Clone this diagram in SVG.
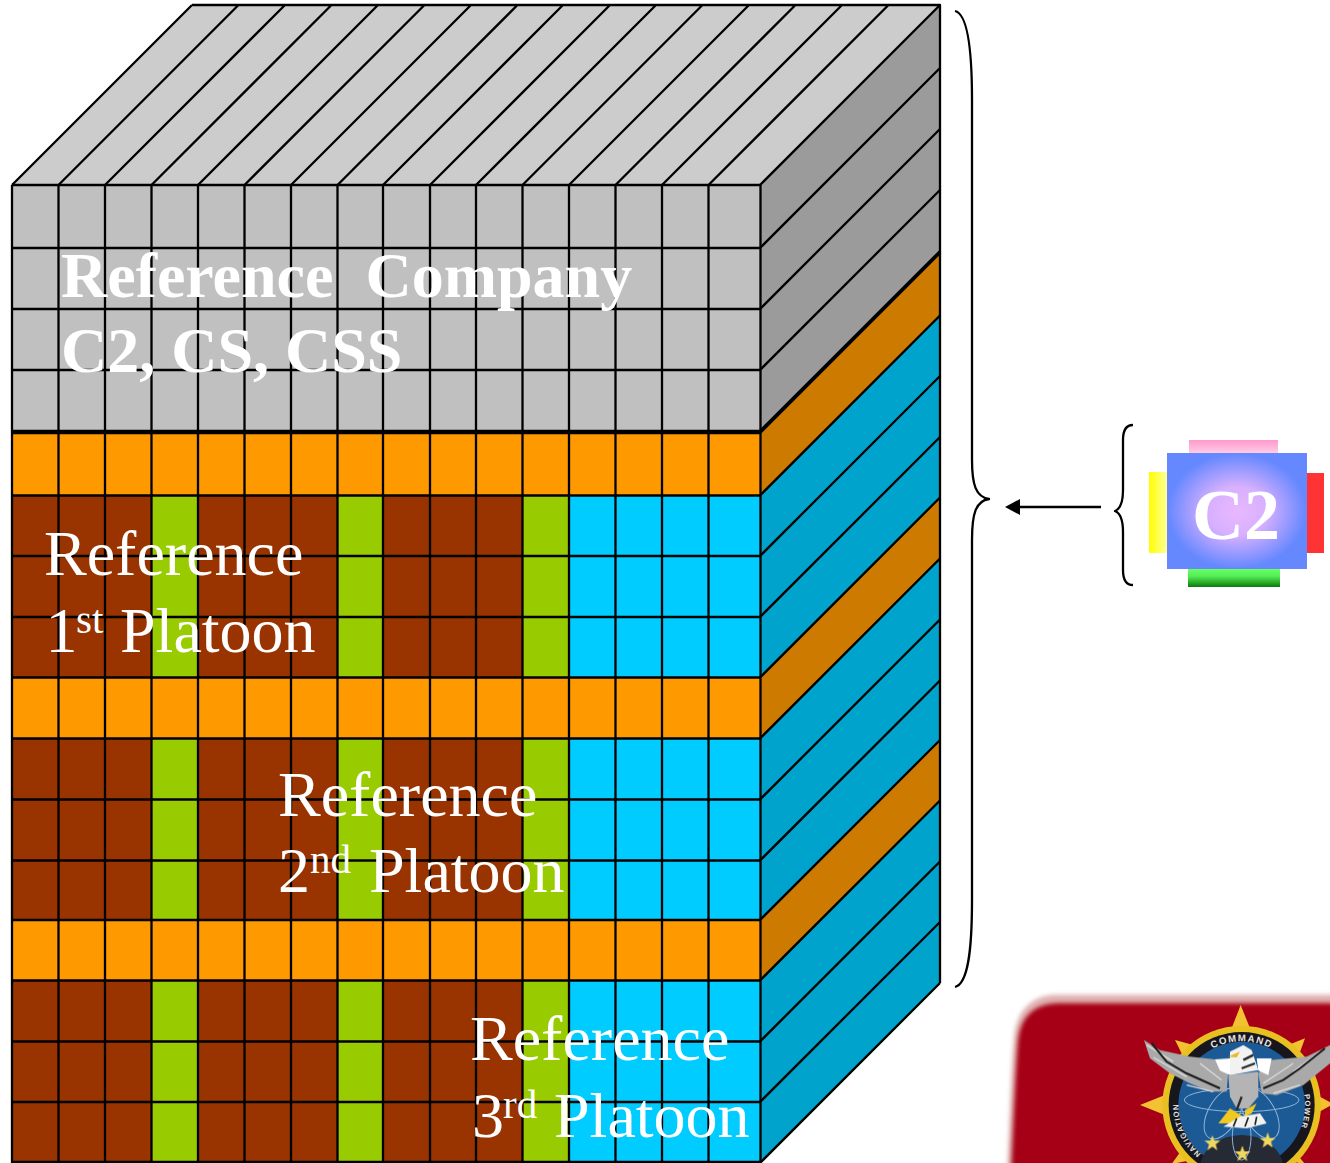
<svg xmlns="http://www.w3.org/2000/svg" xmlns:xlink="http://www.w3.org/1999/xlink" width="1330" height="1163" viewBox="0 0 1330 1163">
<style>
.ln{fill:none;stroke:#000;stroke-width:2.300;stroke-linejoin:round}
.t{font-family:"Liberation Serif","Times New Roman",serif;font-size:64px;fill:#fff}
.b{font-weight:bold}
.s{font-size:41px}
.lt{font-family:"Liberation Sans",Arial,sans-serif;font-weight:bold;font-size:29px;fill:#e4e4e4;letter-spacing:4px}
.lm{font-size:23px;letter-spacing:3px}
.gold{fill:#f2c230}
.fe{fill:none;stroke:#dcdcdc;stroke-width:4}
.dk{fill:none;stroke:#1c1c1c;stroke-width:6}
.orb{fill:none;stroke:#8fb4d8;stroke-width:3}
</style>
<defs>
<radialGradient id="c2g" cx="0.5" cy="0.5" r="0.52"><stop offset="0" stop-color="#e8b8ff"/><stop offset="0.4" stop-color="#d8b0ff"/><stop offset="0.95" stop-color="#6688ff"/></radialGradient>
<linearGradient id="pk" x1="0" y1="0" x2="0" y2="1"><stop offset="0" stop-color="#ff99cc"/><stop offset="1" stop-color="#ffcce6"/></linearGradient>
<linearGradient id="yl" x1="0" y1="0" x2="1" y2="0"><stop offset="0" stop-color="#ffff00"/><stop offset="1" stop-color="#ffff99"/></linearGradient>
<linearGradient id="gr" x1="0" y1="0" x2="0" y2="1"><stop offset="0" stop-color="#66ff66"/><stop offset="0.4" stop-color="#55ee55"/><stop offset="1" stop-color="#0a7a0a"/></linearGradient>
<filter id="bl" x="-5%" y="-5%" width="110%" height="110%"><feGaussianBlur stdDeviation="6"/></filter>
<filter id="bs" x="-5%" y="-5%" width="110%" height="110%"><feGaussianBlur stdDeviation="1.5"/></filter>
<path id="arcT" d="M560 280A190 190 0 0 1 890 280"/>
<path id="arcL" d="M600 518A190 190 0 0 1 535 375"/>
<path id="arcR" d="M915 375A190 190 0 0 1 880 485"/>
<path id="arcR2" d="M905 315A190 190 0 0 1 890 470"/>
<polygon id="st" points="0,-25 6,-8 24,-8 10,3 15,21 0,10 -15,21 -10,3 -24,-8 -6,-8"/>
</defs>
<rect width="1330" height="1163" fill="#fff"/>

<g id="cube-faces">
<polygon points="12,185 192,5 940,5 760,185" fill="#cccccc"/>
<polygon points="760,185 940,5 940,251 760,431" fill="#9b9b9b"/>
<polygon points="760,431 940,251 940,983 760,1163" fill="#00a3cc"/>
<polygon points="760,433 940,253 940,315.500 760,495.500" fill="#cc7a00"/>
<polygon points="760,677.500 940,497.500 940,558.500 760,738.500" fill="#cc7a00"/>
<polygon points="760,920 940,740 940,800.500 760,980.500" fill="#cc7a00"/>
<rect x="12" y="185" width="748" height="246" fill="#c0c0c0"/>
<rect x="12" y="433" width="748" height="730" fill="#993300"/>
<rect x="569" y="495" width="191" height="668" fill="#00ccff"/>
<rect x="152" y="495" width="46" height="668" fill="#99cc00"/>
<rect x="337.500" y="495" width="46" height="668" fill="#99cc00"/>
<rect x="523" y="495" width="46" height="668" fill="#99cc00"/>
<rect x="12" y="433" width="748" height="62.500" fill="#ff9900"/>
<rect x="12" y="677.500" width="748" height="61" fill="#ff9900"/>
<rect x="12" y="920" width="748" height="60.500" fill="#ff9900"/>
</g>

<g id="cube-grid" class="ln">
<path d="M12 185V1163M58.500 185V1163M105 185V1163M151.500 185V1163M198 185V1163M244.500 185V1163M291 185V1163M337.500 185V1163M383 185V1163M430 185V1163M476 185V1163M522.500 185V1163M569 185V1163M615.500 185V1163M662 185V1163M708.500 185V1163M760.500 185V1163"/>
<path d="M12 185H760M12 248H760M12 309H760M12 370H760M12 431H760M12 433H760M12 495.500H760M12 556H760M12 617H760M12 677.500H760M12 738.500H760M12 799.500H760M12 860.500H760M12 920H760M12 980.500H760M12 1041.500H760M12 1102H760M12 1162H760"/>
<path d="M12 185L192 5M58.500 185L238.500 5M105 185L285 5M151.500 185L331.500 5M198 185L378 5M244.500 185L424.500 5M291 185L471 5M337.500 185L517.500 5M383 185L563 5M430 185L610 5M476 185L656 5M522.500 185L702.500 5M569 185L749 5M615.500 185L795.500 5M662 185L842 5M708.500 185L888.500 5M760 185L940 5M192 5H940V983"/>
<path d="M760 248L940 68M760 309L940 129M760 370L940 190M760 431L940 251M760 433L940 253M760 495.500L940 315.500M760 556L940 376M760 617L940 437M760 677.500L940 497.500M760 738.500L940 558.500M760 799.500L940 619.500M760 860.500L940 680.500M760 920L940 740M760 980.500L940 800.500M760 1041.500L940 861.500M760 1102L940 922M760 1163L940 983"/>
</g>

<g id="labels">
<text class="t b" x="61" y="297" xml:space="preserve">Reference  Company</text>
<text class="t b" x="61" y="372">C2, CS, CSS</text>
<text class="t" x="44" y="575">Reference</text>
<text class="t" x="45.500" y="652">1</text>
<text class="t s" x="76" y="633">st</text>
<text class="t" x="120" y="652">Platoon</text>
<text class="t" x="278" y="816">Reference</text>
<text class="t" x="278" y="892">2</text>
<text class="t s" x="310" y="873">nd</text>
<text class="t" x="369" y="892">Platoon</text>
<text class="t" x="470" y="1060">Reference</text>
<text class="t" x="472" y="1137">3</text>
<text class="t s" x="503" y="1118">rd</text>
<text class="t" x="554" y="1137">Platoon</text>
</g>

<g id="connectors" class="ln">
<path d="M955 11C968 14 972 50 972 100V460C972 485 976 497 989 499C976 501 972 513 972 540V900C972 950 968 984 955 987"/>
<path d="M1133 425C1126 425 1123 430 1123 440V490C1123 503 1120 509 1115 511C1120 513 1123 519 1123 532V570C1123 580 1126 585 1133 585"/>
<path d="M1101 507H1018"/>
<polygon points="1005,507 1020,499 1020,515" fill="#000" stroke="none"/>
</g>

<g id="c2-node">
<rect x="1189" y="440" width="89" height="13" fill="url(#pk)"/>
<rect x="1149" y="472" width="18" height="81" fill="url(#yl)"/>
<rect x="1307" y="473" width="17" height="80" fill="#ff3333"/>
<rect x="1188" y="569" width="92" height="18" fill="url(#gr)"/>
<rect x="1167" y="453" width="140" height="116" fill="url(#c2g)"/>
<text class="t b" x="1192" y="539" style="font-size:72px">C2</text>
</g>

<g id="emblem" transform="translate(1000 980) scale(0.33333)">
<path d="M22 570C30 400 34 250 42 170C50 95 90 48 165 44H1040V570Z" fill="#dfb0b0" filter="url(#bl)"/>
<path d="M34 580C42 400 48 260 54 185C62 110 100 72 175 70H1050V580Z" fill="#a60012" filter="url(#bl)"/>
<g filter="url(#bs)">
<polygon class="gold" points="722,75 695,145 750,145"/>
<polygon class="gold" points="525,180 580,195 550,230"/>
<polygon class="gold" points="915,175 865,195 895,230"/>
<polygon class="gold" points="420,375 495,345 495,405"/>
<polygon class="gold" points="1000,372 950,345 950,400"/>
<polygon class="gold" points="515,552 545,510 575,540"/>
<polygon class="gold" points="915,552 880,510 850,540"/>
<circle cx="725" cy="375" r="238" fill="#e8c020"/>
<circle cx="725" cy="375" r="219" fill="#15151c"/>
<circle cx="725" cy="375" r="190" fill="#1c5a96"/>
<ellipse cx="725" cy="565" rx="125" ry="100" fill="#262a36"/>
<ellipse cx="725" cy="360" rx="172" ry="35" class="orb"/>
<ellipse cx="670" cy="400" rx="45" ry="85" class="orb" transform="rotate(30 670 400)"/>
<ellipse cx="780" cy="400" rx="45" ry="85" class="orb" transform="rotate(-30 780 400)"/>
<ellipse cx="725" cy="470" rx="28" ry="70" class="orb"/>
</g>
<text class="lt" text-anchor="middle"><textPath xlink:href="#arcT" startOffset="50%">COMMAND</textPath></text>
<text class="lt lm" text-anchor="middle"><textPath xlink:href="#arcL" startOffset="50%">NAVIGATION</textPath></text>
<text class="lt lm" text-anchor="middle"><textPath xlink:href="#arcR2" startOffset="50%">POWER</textPath></text>
<g filter="url(#bs)">
<polygon points="432,180 480,210 570,230 645,238 685,270 680,335 630,335 570,310 510,280 450,235" fill="#a9a9a9"/>
<polygon points="990,195 920,230 810,240 775,280 785,340 830,345 910,315 990,250" fill="#a9a9a9"/>
<path class="fe" d="M440 195L520 245M460 232L560 290M600 250L665 300M560 315L640 335M880 250L790 310M960 215L880 275M900 315L820 340"/>
<path class="dk" d="M455 190L500 245L560 280L660 325"/>
<path class="dk" d="M975 205L900 265L850 300L790 325"/>
<polygon points="645,238 690,235 690,285 660,272" fill="#fff"/>
<polygon points="770,235 815,235 805,285 775,272" fill="#fff"/>
<polygon points="685,285 775,275 775,350 745,385 710,385 690,350" fill="#b4b4b4"/>
<polygon points="690,215 730,195 755,210 775,270 690,285" fill="#f2f2f2"/>
<polygon points="685,230 720,215 710,232" fill="#e8b820"/>
<path d="M730 240L760 225M725 265L765 250M710 390L725 350" stroke="#2a2a2a" stroke-width="7" fill="none"/>
<polygon points="655,430 690,385 730,410 705,430" fill="#f0c820"/>
<polygon points="735,390 770,370 755,400 735,410" fill="#f0c820"/>
<polygon points="670,440 720,410 780,400 800,430 740,445" fill="#f2f2f2"/>
<path d="M700 440L710 415M735 440L745 412M765 435L770 410" stroke="#222" stroke-width="5" fill="none"/>
<use xlink:href="#st" x="637" y="490" fill="#f0d860"/>
<use xlink:href="#st" x="727" y="522" fill="#f0d860"/>
<use xlink:href="#st" x="803" y="482" fill="#f0d860"/>
</g>
</g>
</svg>
